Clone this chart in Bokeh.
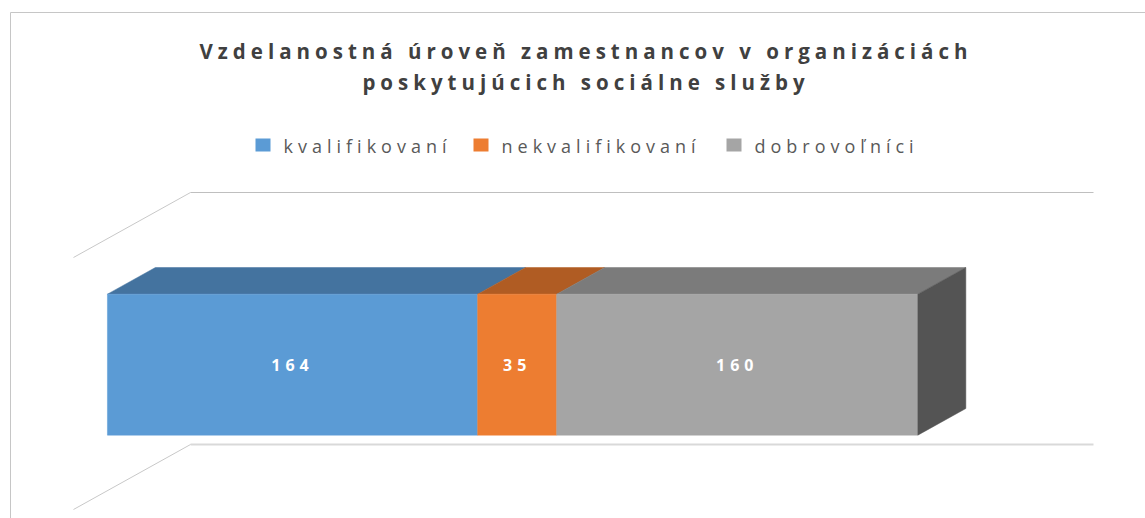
from bokeh.plotting import figure
from bokeh.models import Range1d
from bokeh.embed import file_html
from bokeh.resources import INLINE
from bokeh.core.properties import value

# ---------------- data ----------------
title_lines = ["Vzdelanostná úroveň zamestnancov v organizáciách",
               "poskytujúcich sociálne služby"]
series = ["kvalifikovaní", "nekvalifikovaní", "dobrovoľníci"]
values = [164, 35, 160]
axis_max = 400

# ---------------- styles ----------------
front_colors = ["#5B9BD5", "#ED7D31", "#A5A5A5"]
top_colors = ["#44739F", "#B05C23", "#7B7B7B"]
side_colors = ["#3A6189", "#9A4F1D", "#545454"]
FONT = "Open Sans"
LS = 5  # letter spacing (px), applied through CSS inheritance

# ---------------- layout (screen px) ----------------
W, H = 1145, 518
M = 0
ORIGIN_X = 73          # value 0 at the front of the floor
AXIS_END_X = 976       # axis_max at the front of the floor
k = (AXIS_END_X - ORIGIN_X) / axis_max
DEPTH_X, DEPTH_Y = 117, 65
BAND_TOP, BAND_BOT = 257, 509
Z0, Z1 = 0.29, 0.70
BAR_H = 141
TITLE_X = 583
TITLE_Y = [50, 81]
LEG_X = [255, 473, 726]
LEG_SQ_Y = 151
LEG_TXT_Y = 145
LABEL_DY = 0


def px(sx):
    """screen x -> data x (value units)"""
    return (sx - ORIGIN_X) / k


DX = DEPTH_X / k

p = figure(width=W, height=H,
           x_range=Range1d(px(M), px(M + W)),
           y_range=Range1d(M + H, M),
           output_backend="svg", toolbar_location=None, min_border=0)
p.axis.visible = False
p.grid.visible = False
p.outline_line_color = None
p.background_fill_color = "white"
p.border_fill_color = "white"
p.styles = {"letter-spacing": f"{LS}px"}

# chart border (left + top)
p.segment(x0=[px(10), px(10)], y0=[12, 12], x1=[px(10), px(1160)], y1=[540, 12],
          line_color="#C6C6C6", line_width=1)

# walls: back-wall category lines and side-wall diagonals
p.segment(x0=[0 + DX, 0 + DX], y0=[BAND_TOP - DEPTH_Y, BAND_BOT - DEPTH_Y],
          x1=[axis_max + DX, axis_max + DX], y1=[BAND_TOP - DEPTH_Y, BAND_BOT - DEPTH_Y],
          line_color=["#BFBFBF", "#D9D9D9"], line_width=[1, 2])
p.segment(x0=[0, 0], y0=[BAND_TOP, BAND_BOT], x1=[DX, DX],
          y1=[BAND_TOP - DEPTH_Y, BAND_BOT - DEPTH_Y],
          line_color="#C8C8C8", line_width=1)

# bars
band_c = (BAND_TOP + BAND_BOT) / 2
y_top0 = band_c - BAR_H / 2
y_bot0 = band_c + BAR_H / 2
cum = [0]
for v in values:
    cum.append(cum[-1] + v)

fx0 = Z0 * DX
fx1 = Z1 * DX
fy0 = Z0 * DEPTH_Y
fy1 = Z1 * DEPTH_Y

top_xs, top_ys = [], []
for i in range(len(values)):
    a, b = cum[i], cum[i + 1]
    top_xs.append([a + fx0, b + fx0, b + fx1, a + fx1])
    top_ys.append([y_top0 - fy0, y_top0 - fy0, y_top0 - fy1, y_top0 - fy1])
p.patches(top_xs, top_ys, fill_color=top_colors, line_color=top_colors, line_width=0.5)

p.quad(left=[c + fx0 for c in cum[:-1]], right=[c + fx0 for c in cum[1:]],
       top=y_top0 - fy0, bottom=y_bot0 - fy0,
       fill_color=front_colors, line_color=front_colors, line_width=0.5)

e = cum[-1]
p.patch([e + fx0, e + fx1, e + fx1, e + fx0],
        [y_top0 - fy0, y_top0 - fy1, y_bot0 - fy1, y_bot0 - fy0],
        fill_color=side_colors[-1], line_color=side_colors[-1], line_width=0.5)

# value labels
lab = [str(v) for v in values]
p.text(x=[(cum[i] + cum[i + 1]) / 2 + fx0 for i in range(len(values))],
       y=[band_c - fy0 + LABEL_DY] * len(values), text=lab,
       x_offset=[-len(t) * LS / 2 for t in lab],
       text_font=value(FONT), text_font_style="bold", text_font_size="16px",
       text_color="white", text_align="center", text_baseline="alphabetic")

# title
p.text(x=[px(TITLE_X)] * 2, y=TITLE_Y, text=title_lines,
       x_offset=[-(len(t) - 1) * LS / 2 for t in title_lines],
       text_font=value(FONT), text_font_style="bold", text_font_size="20.5px",
       text_color="#404040", text_align="center", text_baseline="alphabetic")

# legend
p.quad(left=[px(x) for x in LEG_X], right=[px(x + 15) for x in LEG_X],
       top=LEG_SQ_Y - 13, bottom=LEG_SQ_Y, fill_color=front_colors, line_color=None)
p.text(x=[px(x + 28) for x in LEG_X], y=[LEG_TXT_Y] * 3, text=series,
       text_font=value(FONT), text_font_size="18px", text_color="#595959",
       text_align="left", text_baseline="alphabetic")

open("out.html", "w").write(file_html(p, INLINE))
